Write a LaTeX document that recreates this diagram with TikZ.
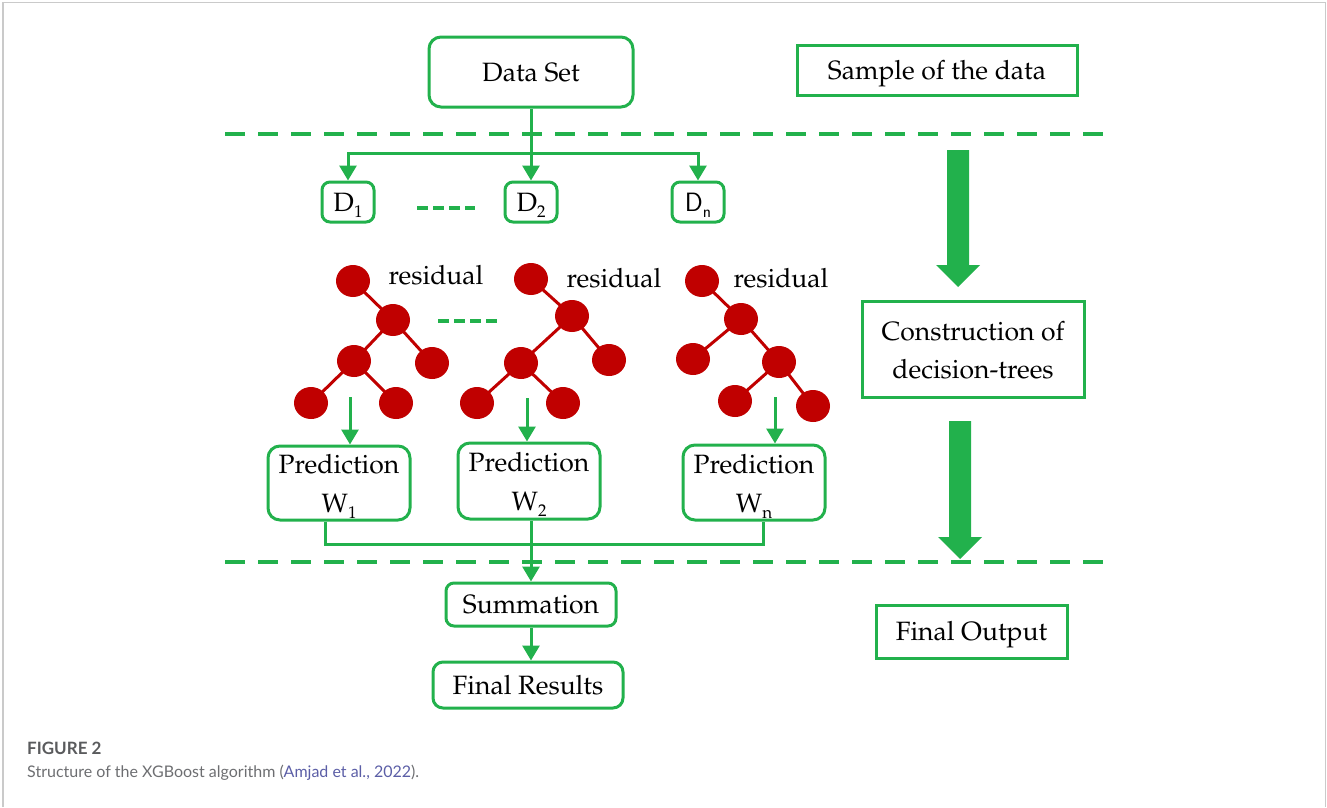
\documentclass[tikz,border=0pt]{standalone}
\usepackage[T1]{fontenc}
\usepackage{fontspec}
\usetikzlibrary{arrows.meta,shapes.geometric}
\newfontfamily\capfont{Lato}
\newcommand\pal{\fontencoding{T1}\fontfamily{ppl}\selectfont}
\newcommand\sub[1]{\raisebox{-6pt}{\fontsize{17}{17}\selectfont #1}}
\newcommand\topstrut{\rule{0pt}{27pt}}
\definecolor{gr}{HTML}{22B14C}
\definecolor{tr}{HTML}{C00000}
\definecolor{capgray}{HTML}{6D6E71}
\definecolor{capdark}{HTML}{5A5B5D}
\definecolor{caplink}{HTML}{5B5EA6}
\definecolor{framegray}{HTML}{CACACA}

\tikzset{
  box/.style={draw=gr, line width=3pt, inner sep=0pt, text=black,
    font=\pal\fontsize{26.5}{31}\selectfont},
  one/.style={text height=20pt, text depth=2pt},
  rbox/.style={box, rounded corners=#1},
  rbox/.default=10pt,
  conn/.style={draw=gr, line width=3pt},
  arr/.style={conn, -{Triangle[length=15pt,width=17pt]}},
  sep/.style={draw=gr, line width=4pt, dash pattern=on 20pt off 13pt},
  gap/.style={draw=gr, line width=4pt, dash pattern=on 11pt off 5pt},
  leaf/.style={ellipse, fill=tr, minimum width=34pt, minimum height=32pt, inner sep=0pt},
  twig/.style={draw=tr, line width=3pt},
  lbl/.style={font=\pal\fontsize{26.5}{31}\selectfont, anchor=base},
}

\begin{document}
\begin{tikzpicture}[x=1pt, y=-1pt]
\useasboundingbox (0,0) rectangle (1327,807);

% outer frame (open at the bottom)
\draw[framegray, line width=1.5pt] (3,807) -- (3,2.5) -- (1325.5,2.5) -- (1325.5,807);

% section separators
\draw[sep] (225,134) -- (1105,134);
\draw[sep] (225,562) -- (1105,562);

% data set and its samples
\node[rbox=12pt, one, minimum width=204pt, minimum height=70pt] (ds) at (531,72) {Data Set};
\node[rbox=8pt, one, minimum width=52pt, minimum height=40pt] (d1) at (348,202) {D\sub{1}};
\node[rbox=8pt, one, minimum width=52pt, minimum height=40pt] (d2) at (531,202) {D\sub{2}};
\node[rbox=8pt, one, minimum width=52pt, minimum height=40pt] (dn) at (698,202) {\sffamily D\sub{n}};
\coordinate (split) at (531,153);
\draw[arr] (ds.south) -- (d2.north);
\draw[arr] (split) -| (d1.north);
\draw[arr] (split) -| (dn.north);
\coordinate (g1a) at (417,208);
\coordinate (g1b) at (475,208);
\draw[gap] (g1a) -- (g1b);

% tree 1
\node[leaf] (t1a) at (353,281) {};
\node[leaf] (t1b) at (393,320) {};
\node[leaf] (t1c) at (354,361) {};
\node[leaf] (t1d) at (432,363) {};
\node[leaf] (t1e) at (311,403) {};
\node[leaf] (t1f) at (396,403) {};
\draw[twig] (t1a.center) -- (t1b.center) -- (t1c.center) -- (t1e.center)
            (t1b.center) -- (t1d.center) (t1c.center) -- (t1f.center);
\node[lbl] (r1) at (436,284) {residual};

% tree 2
\node[leaf] (t2a) at (531,279) {};
\node[leaf] (t2b) at (572,316) {};
\node[leaf] (t2c) at (521,363) {};
\node[leaf] (t2d) at (609,360) {};
\node[leaf] (t2e) at (477,403) {};
\node[leaf] (t2f) at (563,403) {};
\draw[twig] (t2a.center) -- (t2b.center) -- (t2c.center) -- (t2e.center)
            (t2b.center) -- (t2d.center) (t2c.center) -- (t2f.center);
\node[lbl] (r2) at (614,287) {residual};

% tree n
\node[leaf] (t3a) at (702,281) {};
\node[leaf] (t3b) at (741,319) {};
\node[leaf] (t3c) at (693,359) {};
\node[leaf] (t3d) at (779,362) {};
\node[leaf] (t3e) at (735,401) {};
\node[leaf] (t3f) at (813,406) {};
\draw[twig] (t3a.center) -- (t3b.center) -- (t3d.center) -- (t3f.center)
            (t3b.center) -- (t3c.center) (t3d.center) -- (t3e.center);
\node[lbl] (r3) at (781,287) {residual};

\coordinate (g2a) at (438,321);
\coordinate (g2b) at (497,321);
\draw[gap] (g2a) -- (g2b);

% predictions
\node[rbox=12pt, minimum width=142pt, minimum height=74pt, align=center] (p1) at (339,483)
  {\topstrut Prediction\\[8pt]W\sub{1}};
\node[rbox=12pt, minimum width=142pt, minimum height=76pt, align=center] (p2) at (529,481)
  {\topstrut Prediction\\[8pt]W\sub{2}};
\node[rbox=12pt, minimum width=142pt, minimum height=75pt, align=center] (pn) at (754,482.5)
  {\topstrut Prediction\\[8pt]W\sub{n}};
\coordinate (s1) at (350,397);
\coordinate (s2) at (527,398);
\coordinate (s3) at (775,397);
\draw[arr] (s1) -- (s1 |- p1.north);
\draw[arr] (s2) -- (s2 |- p2.north);
\draw[arr] (s3) -- (s3 |- pn.north);

% aggregation
\node[rbox=8pt, one, minimum width=170pt, minimum height=43pt] (sum) at (531,604.5) {Summation};
\node[rbox=10pt, one, minimum width=190pt, minimum height=46pt] (fin) at (528,685) {Final Results};
\coordinate (bus) at (531,544);
\draw[conn] ([xshift=-14pt]p1.south) |- (bus) -| ([xshift=9pt]pn.south);
\draw[arr] (p2.south -| sum.north) -- (sum.north);
\draw[arr] (sum.south) -- (sum.south |- fin.north);

% stage labels
\node[box, one, minimum width=280pt, minimum height=50pt] (sample) at (937,70) {Sample of the data};
\node[box, minimum width=222pt, minimum height=96pt, align=center] (cons) at (973,349)
  {\rule{0pt}{22pt}Construction of\\[7pt]decision-trees};
\node[box, one, minimum width=191pt, minimum height=53pt] (fo) at (971.5,631.5) {Final Output};

% stage arrows
\fill[gr] (947,150) -- (969,150) -- (969,265) -- (980,265) -- (958,287) -- (936,265) -- (947,265) -- cycle;
\fill[gr] (949,421) -- (971,421) -- (971,537) -- (982,537) -- (960,559) -- (938,537) -- (949,537) -- cycle;

% caption
\node[anchor=base west, inner sep=0pt, text=capdark, font=\capfont\bfseries\fontsize{17}{20}\selectfont] (fig) at (27,754) {FIGURE 2};
\node[anchor=base west, inner sep=0pt, text=capgray, font=\capfont\fontsize{16}{18}\selectfont] (cap) at (27,777)
  {Structure of the XGBoost algorithm (\textcolor{caplink}{Amjad et al., 2022}).};
\end{tikzpicture}
\end{document}
